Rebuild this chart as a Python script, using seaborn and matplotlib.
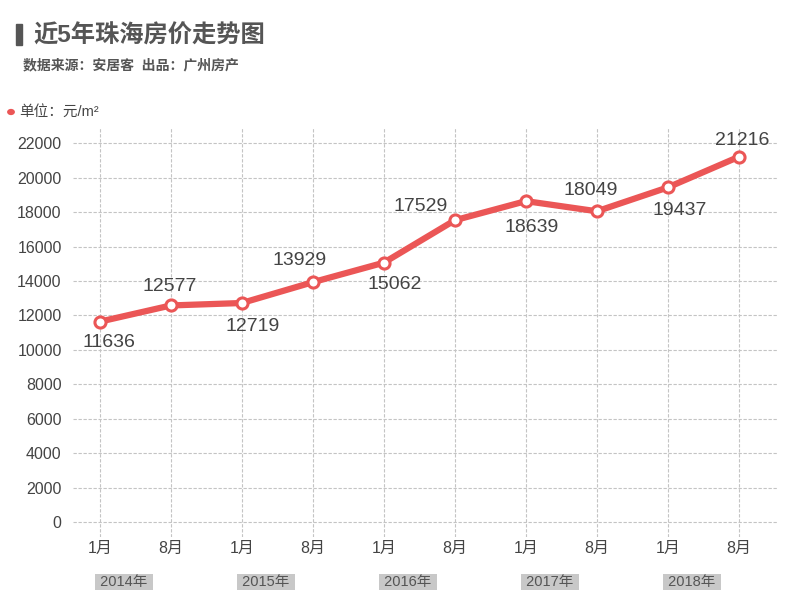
import matplotlib
matplotlib.use("Agg")
import matplotlib.pyplot as plt
import matplotlib.transforms as mtransforms
from matplotlib.patches import Rectangle, Circle
import pandas as pd
import seaborn as sns

# data
months = ['1月', '8月', '1月', '8月', '1月', '8月', '1月', '8月', '1月', '8月']
years = ['2014年', '2015年', '2016年', '2017年', '2018年']
prices = [11636, 12577, 12719, 13929, 15062, 17529, 18639, 18049, 19437, 21216]
# label offsets in pixels (dx, dy), dy positive = up
label_offsets = [(9, -21), (-1, 19), (11, -23), (-13, 22), (11, -22),
                 (-34, 14), (6, -26), (-6, 21), (12, -23), (3, 16)]

sns.set_theme(style="whitegrid")
plt.rcParams['font.family'] = ['Liberation Sans', 'Noto Sans CJK SC', 'DejaVu Sans']

red = '#EB5656'
text_c = '#444444'
grid_c = '#c4c4c4'

df = pd.DataFrame({'idx': range(len(prices)), 'price': prices})

fig = plt.figure(figsize=(8, 6.06), dpi=100)
ax = fig.add_axes([0.091, 0.114, 0.8815, 0.676])

sns.lineplot(data=df, x='idx', y='price', ax=ax, color=red, linewidth=4.5,
             marker='o', markersize=8, markerfacecolor='white',
             markeredgecolor=red, markeredgewidth=2.2)

ax.set_xlim(-0.38, 9.55)
ax.set_ylim(-870, 22930)
ax.set_xticks(range(len(months)))
ax.set_xticklabels(months, fontsize=11.5, color=text_c)
ax.set_yticks(range(0, 22001, 2000))
ax.set_yticklabels([str(v) for v in range(0, 22001, 2000)], fontsize=11.5, color=text_c)
ax.tick_params(axis='x', length=0, pad=3)
ax.tick_params(axis='y', length=0, pad=8)
ax.set_xlabel('')
ax.set_ylabel('')
ax.grid(True, color=grid_c, linestyle=(0, (3, 1.5)), linewidth=0.8)
for s in ax.spines.values():
    s.set_visible(False)
ax.set_facecolor('white')

for i, v in enumerate(prices):
    dx, dy = label_offsets[i]
    ax.annotate(str(v), (i, v), xytext=(dx, dy), textcoords='offset pixels',
                ha='center', va='center', fontsize=14, color=text_c)

# year labels
trans = mtransforms.blended_transform_factory(ax.transData, fig.transFigure)
for k, y in enumerate(years):
    ax.text(2 * k + 0.34, 0.0396, ' ' + y + ' ', transform=trans, ha='center', va='center',
            fontsize=10.5, color='#555555',
            bbox=dict(boxstyle='square,pad=0.1', fc='#c8c8c8', ec='none'))

# title block
fig.patches.append(Rectangle((16 / 800, 1 - 45 / 606), 6 / 800, 21 / 606,
                             transform=fig.transFigure, color='#555555'))
fig.text(33 / 800, 1 - 36 / 606, '近5年珠海房价走势图', fontsize=17.5, fontweight='bold',
         color='#555555', ha='left', va='center')
fig.text(23 / 800, 1 - 65 / 606, '数据来源：安居客  出品：广州房产', fontsize=10,
         fontweight='bold', color='#555555', ha='left', va='center')

# unit label
fig.patches.append(Circle((11 / 800, 1 - 112 / 606), 3.2 / 800, transform=fig.transFigure,
                          color=red))
fig.text(19 / 800, 1 - 112 / 606, '单位：元/m²', fontsize=10.5, color='#444444',
         ha='left', va='center')

fig.savefig('out.png', dpi=100, facecolor='white')
